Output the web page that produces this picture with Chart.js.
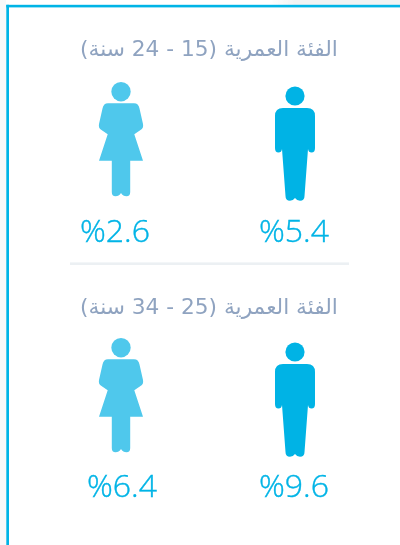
<!DOCTYPE html>
<html lang="ar">
<head>
<meta charset="utf-8">
<title>الفئة العمرية</title>
<script src="https://cdn.jsdelivr.net/npm/chart.js@4"></script>
<style>
    html, body { margin: 0; padding: 0; background: #fff; width: 400px; height: 545px; overflow: hidden; }
    #myChart { display: block; }
</style>
</head>
<body>
<canvas id="myChart" width="400" height="545"></canvas>
<script>
    var genders = ['female', 'male'];
    var ageGroups = ['الفئة العمرية (15 - 24 سنة)', 'الفئة العمرية (25 - 34 سنة)'];
    var femaleValues = [2.6, 6.4];
    var maleValues = [5.4, 9.6];

    // silhouettes, drawn once and handed to the chart as point styles
    function mirrorFill(c, cx, pts) {
        c.beginPath();
        c.moveTo(cx + pts[0][0], pts[0][1]);
        pts.slice(1).forEach(function (p) {
            if (p.length == 4) c.quadraticCurveTo(cx + p[0], p[1], cx + p[2], p[3]);
            else c.lineTo(cx + p[0], p[1]);
        });
        pts.slice().reverse().forEach(function (p, i, all) {
            var next = all[i + 1];
            if (!next) return;
            var end = next.length == 4 ? [next[2], next[3]] : next;
            if (p.length == 4) c.quadraticCurveTo(cx - p[0], p[1], cx - end[0], end[1]);
            else c.lineTo(cx - end[0], end[1]);
        });
        c.closePath();
        c.fill();
    }

    function makeIcon(color, head, body) {
        var cv = document.createElement('canvas');
        cv.width = 46;
        cv.height = 124;
        var c = cv.getContext('2d');
        c.fillStyle = color;
        c.beginPath();
        c.arc(23, head[0], head[1], 0, Math.PI * 2);
        c.fill();
        mirrorFill(c, 23, body);
        return cv;
    }

    var womanIcon = makeIcon('#4fc8ec', [11.7, 9.7], [
        [0, 23.3], [13, 23.3], [17.5, 23.3, 18.5, 28.5], [22, 44], [22.8, 48.5, 19.5, 50], [13.3, 54.3],
        [22, 80.7], [9.2, 80.7], [9.2, 112], [9.2, 116.3, 5.5, 116.3], [2, 116.3, 0, 113]
    ]);
    var manIcon = makeIcon('#00b3e5', [16, 9.6], [
        [0, 28], [12, 28], [20, 28, 20, 36], [20, 68], [20, 72.5, 16.5, 72.5], [13.5, 72.5, 13, 69],
        [9.5, 116], [9.5, 120.8, 5, 120.8], [2, 120.8, 0, 118]
    ]);

    var framePlugin = {
        id: 'frame',
        beforeDraw: function (chart) {
            var c = chart.ctx;
            c.save();
            // pale page edge outside the box
            c.fillStyle = '#f9f9f9';
            c.fillRect(0, 0, 6, 545);
            var fade = c.createLinearGradient(270, 0, 295, 0);
            fade.addColorStop(0, 'rgba(241,243,243,0)');
            fade.addColorStop(1, 'rgba(241,243,243,1)');
            c.fillStyle = fade;
            c.fillRect(270, 0, 130, 5);
            c.fillStyle = '#00b4e6';
            c.fillRect(6.3, 4.8, 393.7, 2.6);
            c.fillRect(6.3, 4.8, 2.7, 540.2);
            // divider between the two age groups
            c.fillStyle = '#ecf0f3';
            c.fillRect(70, 262.4, 279, 2.6);
            c.restore();
        }
    };

    var labelsPlugin = {
        id: 'labels',
        afterDatasetsDraw: function (chart) {
            var c = chart.ctx, xs = chart.scales.x, ys = chart.scales.y;
            c.save();
            c.textBaseline = 'alphabetic';

            ageGroups.forEach(function (g, i) {
                var y = ys.getPixelForValue(i);
                c.direction = 'rtl';
                c.textAlign = 'center';
                c.fillStyle = '#8fa3c0';
                c.font = '21.7px "DejaVu Sans"';
                c.fillText(g, 209, y - 86 + i * 2);

                c.direction = 'ltr';
                c.fillStyle = '#00b4e6';
                c.strokeStyle = '#00b4e6';
                c.lineWidth = 0.4;
                c.font = '300 32px "Open Sans"';
                // first female figure sits a bit left in the source
                var nudge = i == 0 ? -6 : 1;
                [[femaleValues, 0, nudge], [maleValues, 1, -1]].forEach(function (s) {
                    var txt = '%' + s[0][i].toFixed(1);
                    var tx = xs.getPixelForValue(s[1]) + s[2];
                    c.fillText(txt, tx, y + 100 - i);
                    c.strokeText(txt, tx, y + 100 - i);
                });
            });
            c.restore();
        }
    };

    const ctx = document.getElementById('myChart').getContext('2d');
    const myChart = new Chart(ctx, {
        type: 'scatter',
        data: {
            datasets: [{
                label: 'female',
                data: ageGroups.map(function (g, i) { return { x: genders[0], y: g, v: femaleValues[i] }; }),
                pointStyle: womanIcon
            }, {
                label: 'male',
                data: ageGroups.map(function (g, i) { return { x: genders[1], y: g, v: maleValues[i] }; }),
                pointStyle: manIcon
            }]
        },
        options: {
            responsive: false,
            animation: false,
            layout: { padding: { left: 34, right: 18, top: 14, bottom: 19 } },
            plugins: { legend: { display: false }, tooltip: { enabled: false } },
            scales: {
                x: { type: 'category', labels: genders, offset: true, display: false },
                y: { type: 'category', labels: ageGroups, offset: true, display: false }
            }
        },
        plugins: [framePlugin, labelsPlugin]
    });
</script>
</body>
</html>
